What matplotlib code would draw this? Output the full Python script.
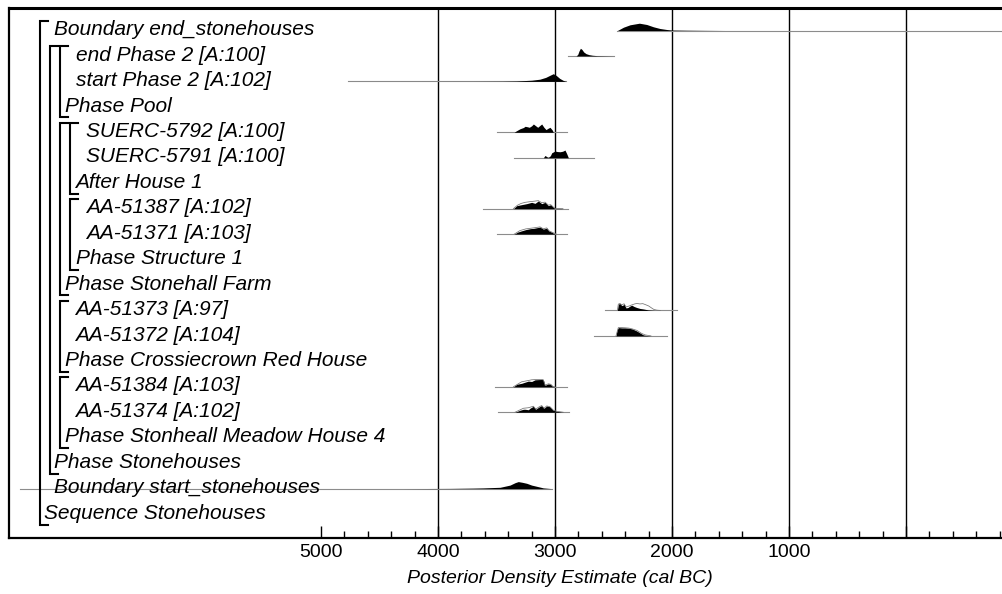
import numpy as np
import matplotlib.pyplot as plt
from matplotlib.transforms import blended_transform_factory, IdentityTransform
from matplotlib.ticker import FixedLocator, FixedFormatter

plt.rcParams['font.family'] = ['Liberation Sans', 'DejaVu Sans']

# model rows, top to bottom, with nesting depth of each label
labels = ['Boundary end_stonehouses', 'end Phase 2 [A:100]', 'start Phase 2 [A:102]',
          'Phase Pool', 'SUERC-5792 [A:100]', 'SUERC-5791 [A:100]', 'After House 1',
          'AA-51387 [A:102]', 'AA-51371 [A:103]', 'Phase Structure 1',
          'Phase Stonehall Farm', 'AA-51373 [A:97]', 'AA-51372 [A:104]',
          'Phase Crossiecrown Red House', 'AA-51384 [A:103]', 'AA-51374 [A:102]',
          'Phase Stonheall Meadow House 4', 'Phase Stonehouses',
          'Boundary start_stonehouses', 'Sequence Stonehouses']
levels = [1, 3, 3, 2, 4, 4, 3, 4, 4, 3, 2, 3, 3, 2, 3, 3, 2, 1, 1, 0]

# groups: (first child row, label row, depth)
groups = [(0, 19, 0), (1, 17, 1), (1, 3, 2), (4, 10, 2), (4, 6, 3),
          (7, 9, 3), (11, 13, 2), (14, 16, 2)]

# posterior ranges (cal BC)
ranges = {
    0: (2467, -1500), 1: (2889, 2496), 2: (4769, 2906), 4: (3498, 2895),
    5: (3350, 2667), 7: (3612, 2886), 8: (3496, 2895), 11: (2573, 1955),
    12: (2667, 2040), 14: (3513, 2895), 15: (3484, 2880), 18: (7573, 3028),
}

# posterior densities: row -> (years, relative probability)
post = {
    0: ([2467, 2415, 2359, 2279, 2216, 2159, 2103, 2046, 2003, 1875, 1700, 1550],
        [0, 3.3, 5.7, 7.3, 6.0, 3.7, 2.0, 1.0, 0.5, 0.3, 0.12, 0]),
    1: ([2889, 2820, 2806, 2795, 2783, 2770, 2755, 2735, 2710, 2680, 2640, 2550, 2496],
        [0, 0, 1.5, 5.0, 7.7, 6.5, 4.0, 2.3, 1.3, 0.7, 0.3, 0.1, 0]),
    2: ([4769, 3700, 3450, 3330, 3200, 3130, 3080, 3040, 3015, 2990, 2960, 2930, 2906],
        [0, 0.05, 0.15, 0.4, 1.2, 2.2, 4.0, 6.3, 7.7, 6.0, 3.0, 1.0, 0]),
    4: ([3350, 3330, 3300, 3270, 3256, 3235, 3220, 3200, 3185, 3165, 3148, 3130, 3114,
         3095, 3077, 3060, 3043, 3025, 3014],
        [0, 1.5, 3.5, 4.8, 6.0, 5.5, 5.0, 6.5, 8.3, 6.5, 5.0, 6.8, 8.3, 5.0, 2.7, 4.0,
         5.0, 2.5, 0]),
    5: ([3100, 3085, 3070, 3057, 3040, 3028, 3000, 2980, 2957, 2935, 2915, 2900, 2886],
        [0, 2.3, 1.0, 0.5, 2.0, 5.0, 6.7, 6.2, 6.0, 6.5, 7.7, 4.0, 0]),
    7: ([3356, 3327, 3285, 3242, 3200, 3171, 3143, 3114, 3085, 3057, 3037, 3014, 3000,
         2960, 2932],
        [0, 3.0, 4.0, 5.0, 6.3, 5.3, 7.7, 5.0, 6.3, 3.0, 4.0, 1.5, 0.3, 0.3, 0]),
    8: ([3348, 3320, 3285, 3250, 3210, 3185, 3160, 3128, 3100, 3071, 3050, 3028, 3005, 2990],
        [0, 2.0, 3.3, 4.5, 5.5, 5.7, 6.3, 7.0, 5.0, 6.0, 3.0, 2.0, 0.3, 0]),
    11: ([2467, 2462, 2459, 2445, 2430, 2422, 2410, 2400, 2393, 2375, 2365, 2345, 2325,
          2303, 2274, 2245, 2203, 2145],
         [0, 4.0, 6.3, 7.0, 5.0, 5.0, 6.7, 4.0, 2.5, 3.0, 4.0, 5.3, 4.0, 3.0, 2.0, 1.5,
          0.5, 0]),
    12: ([2479, 2470, 2459, 2430, 2400, 2370, 2340, 2303, 2274, 2245, 2210, 2180],
         [0, 6.0, 8.3, 8.0, 8.0, 7.7, 7.0, 5.0, 3.0, 1.0, 0.3, 0]),
    14: ([3356, 3327, 3285, 3228, 3200, 3171, 3140, 3114, 3100, 3085, 3057, 3037, 3020, 3000],
         [0, 2.5, 3.5, 5.7, 5.3, 7.0, 7.2, 7.3, 7.0, 1.5, 3.0, 2.5, 0.5, 0]),
    15: ([3342, 3300, 3270, 3256, 3228, 3214, 3185, 3165, 3134, 3114, 3094, 3071, 3043,
          3014, 2986, 2960, 2930],
         [0, 2.0, 3.0, 3.0, 2.5, 4.0, 6.0, 3.0, 5.5, 6.7, 4.0, 6.3, 5.5, 2.0, 1.0, 0.5, 0]),
    18: ([4300, 3897, 3700, 3613, 3470, 3385, 3340, 3314, 3280, 3242, 3200, 3171, 3100,
          3050, 3028],
         [0, 0.2, 0.5, 0.7, 1.3, 3.5, 6.0, 7.0, 6.3, 5.3, 3.5, 2.7, 0.7, 0.2, 0]),
}

# unmodelled likelihoods drawn as outlines
prior = {
    7: ([3356, 3320, 3290, 3256, 3213, 3175, 3143, 3114, 3085, 3057, 3037, 3014, 3000, 2932],
        [0, 3.5, 5.2, 6.3, 7.0, 7.5, 8.0, 6.0, 6.5, 3.5, 4.0, 1.5, 0.3, 0]),
    8: ([3348, 3300, 3250, 3185, 3128, 3100, 3071, 3050, 3028, 2990],
        [0, 3.5, 5.2, 6.2, 7.2, 5.3, 6.2, 3.2, 2.0, 0]),
    11: ([2467, 2459, 2445, 2430, 2410, 2393, 2365, 2345, 2320, 2300, 2274, 2250, 2231,
          2200, 2175, 2155, 2130, 2100],
         [0, 6.3, 7.0, 5.5, 6.7, 3.5, 4.5, 5.5, 6.5, 7.0, 6.5, 6.8, 6.0, 4.5, 2.5, 1.0,
          0.3, 0]),
    12: ([2479, 2459, 2430, 2400, 2370, 2340, 2300, 2260, 2230, 2180],
         [0, 8.3, 8.3, 8.1, 7.8, 7.0, 5.5, 2.5, 1.0, 0]),
    14: ([3356, 3300, 3285, 3228, 3200, 3171, 3114, 3100, 3085, 3057, 3037, 3020, 3000],
         [0, 4.0, 5.0, 6.3, 7.0, 7.2, 7.4, 7.0, 1.5, 3.0, 2.5, 0.5, 0]),
    15: ([3342, 3270, 3228, 3185, 3165, 3134, 3114, 3094, 3071, 3043, 3014, 2986, 2930],
         [0, 4.0, 4.5, 6.0, 3.2, 5.5, 6.7, 4.0, 6.3, 5.5, 2.0, 1.0, 0]),
}

major_ticks = [5000, 4000, 3000, 2000, 1000, 0, -1000]
tick_labels = ['5000', '4000', '3000', '2000', '1000', '', '']
minor_ticks = [y for y in range(5000, -1800, -200) if y % 1000]
grid_years = [4000, 3000, 2000, 1000, 0]

ROW = 25.45      # pixels per row
W, H = 1003, 594

fig = plt.figure(figsize=(W / 100, H / 100), dpi=100)
ax = fig.add_axes([9 / W, (H - 538) / H, 1102 / W, 530 / H])
ax.set_xlim(7667, -1752)
ax.set_ylim((538 - 30.5) / ROW, (8 - 30.5) / ROW)

px = blended_transform_factory(IdentityTransform(), ax.transData)

for yr in grid_years:
    ax.axvline(yr, color='black', lw=1.0, zorder=1)

for row, (a, b) in ranges.items():
    ax.plot([a, b], [row, row], color='0.55', lw=0.8, zorder=2)

for row, (yrs, dens) in post.items():
    h = np.array(dens) / ROW
    ax.fill_between(yrs, row, row - h, color='black', lw=0, zorder=3)

for row, (yrs, dens) in prior.items():
    h = np.array(dens) / ROW
    ax.plot(yrs, row - h, color='0.45', lw=0.55, zorder=4)

# nested brackets of the model structure
for first, last, lev in groups:
    bx = 39.5 + 10.3 * lev
    top = first - 9.5 / ROW
    bot = last + 10.5 / ROW
    ax.plot([bx + 8, bx, bx, bx + 8], [top, top, bot, bot], transform=px,
            color='black', lw=1.5, solid_joinstyle='miter', zorder=5)

for i, (lab, lev) in enumerate(zip(labels, levels)):
    ax.text(44 + 10.5 * lev, i + 4.7 / ROW, lab, transform=px, fontsize=15,
            style='italic', va='baseline', ha='left', zorder=6)

ax.spines['right'].set_visible(False)
ax.spines['left'].set_linewidth(1.6)
ax.spines['bottom'].set_linewidth(1.6)
ax.spines['top'].set_linewidth(2.2)

ax.set_yticks([])
ax.xaxis.set_major_locator(FixedLocator(major_ticks))
ax.xaxis.set_major_formatter(FixedFormatter(tick_labels))
ax.xaxis.set_minor_locator(FixedLocator(minor_ticks))
ax.tick_params(axis='x', which='major', direction='in', length=8.5, width=1.0,
               labelsize=14, pad=4)
ax.tick_params(axis='x', which='minor', direction='in', length=5, width=1.0)
ax.set_xlabel('Posterior Density Estimate (cal BC)', fontsize=14, style='italic',
              labelpad=7)

fig.savefig('out.png', dpi=100)
